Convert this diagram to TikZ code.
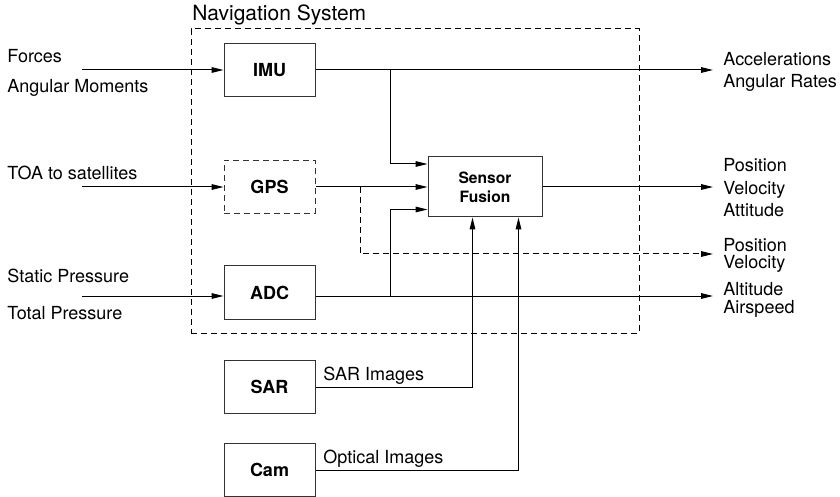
\documentclass[tikz,border=0pt]{standalone}
\usepackage{fontspec}
\setmainfont{TeX Gyre Heros}
\usetikzlibrary{arrows.meta,positioning,calc}
\tikzset{
  unitbox/.style={draw=black!80,line width=0.5pt,fill=white,minimum width=45.5pt,
    minimum height=26.5pt,inner sep=0pt,font=\fontsize{9}{11}\selectfont\bfseries},
  fusionbox/.style={draw=black!80,line width=0.5pt,fill=white,minimum width=57pt,
    minimum height=30pt,inner sep=0pt,align=center,font=\fontsize{7.8}{9.5}\selectfont\bfseries},
  sigarrow/.style={-{Triangle[length=6pt,width=2.8pt]},line width=0.5pt},
  sigline/.style={line width=0.5pt},
  dashline/.style={dash pattern=on 3pt off 2pt,line width=0.5pt},
  siglabel/.style={anchor=base west,inner sep=0pt,font=\fontsize{9}{11}\selectfont}
}
\begin{document}
\begin{tikzpicture}[x=0.5pt,y=-0.5pt]
  \useasboundingbox (0,0) rectangle (840,497);
  % navigation system frame
  \node[draw,dashline,minimum width=224pt,minimum height=152pt,inner sep=0pt] (nav) at (415,181) {};
  \node[siglabel,font=\fontsize{10.5}{12}\selectfont] (navtitle) at (192,21) {Navigation System};
  % sensors
  \node[unitbox] (imu) at (269.5,70.5) {IMU};
  \node[unitbox,dashline] (gps) at (269.5,187) {GPS};
  \node[unitbox] (adc) at (269.5,292.5) {ADC};
  \node[unitbox] (sar) at (269.5,387) {SAR};
  \node[unitbox] (cam) at (269.5,470) {Cam};
  \node[fusionbox] (fusion) at (485,187) {Sensor\\Fusion};
  % inputs
  \coordinate (forcein) at (82,70);
  \coordinate (toain) at (82,187);
  \coordinate (pressin) at (82,296);
  \node[siglabel] (forces) at (7,63) {Forces};
  \node[siglabel] (moments) at (7,93) {Angular Moments};
  \node[siglabel] (toa) at (7,180) {TOA to satellites};
  \node[siglabel] (static) at (7,283) {Static Pressure};
  \node[siglabel] (total) at (7,319) {Total Pressure};
  \draw[sigarrow] (forcein) -- (forcein -| imu.west);
  \draw[sigarrow] (toain) -- (gps.west);
  \draw[sigarrow] (pressin) -- (pressin -| adc.west);
  % outputs
  \coordinate (imuout) at (713,70);
  \coordinate (fusionout) at (713,187);
  \coordinate (gpsout) at (713,254);
  \coordinate (adcout) at (713,296);
  \node[siglabel] (accel) at (723,66) {Accelerations};
  \node[siglabel] (rates) at (723,88) {Angular Rates};
  \node[siglabel] (pos) at (723,172) {Position};
  \node[siglabel] (vel) at (723,195) {Velocity};
  \node[siglabel] (att) at (723,217) {Attitude};
  \node[siglabel] (gpspos) at (723,251) {Position};
  \node[siglabel] (gpsvel) at (723,269) {Velocity};
  \node[siglabel] (alt) at (723,295) {Altitude};
  \node[siglabel] (speed) at (723,313) {Airspeed};
  \draw[sigarrow] (imu.east |- imuout) -- (imuout);
  \draw[sigarrow] (fusion.east) -- (fusionout);
  \draw[sigarrow] (adc.east |- adcout) -- (adcout);
  % branches into the fusion
  \coordinate (imujoin) at (390,70);
  \coordinate (adcjoin) at (390,296);
  \coordinate (gpsjoin) at (360,187);
  \draw[sigarrow] (imujoin) |- ($(fusion.west)+(0,-23)$);
  \draw[sigarrow] (gps.east) -- (fusion.west);
  \draw[sigarrow] (adcjoin) |- ($(fusion.west)+(0,22.5)$);
  \draw[sigarrow,dashline] (gpsjoin) |- (gpsout);
  % image sensors
  \draw[sigarrow] (sar.east) -| ($(fusion.south west)+(45,0)$);
  \draw[sigarrow] (cam.east) -| ($(fusion.south west)+(91,0)$);
  \node[siglabel] (sarimg) at (323,380) {SAR Images};
  \node[siglabel] (optimg) at (323,463) {Optical Images};
\end{tikzpicture}
\end{document}
